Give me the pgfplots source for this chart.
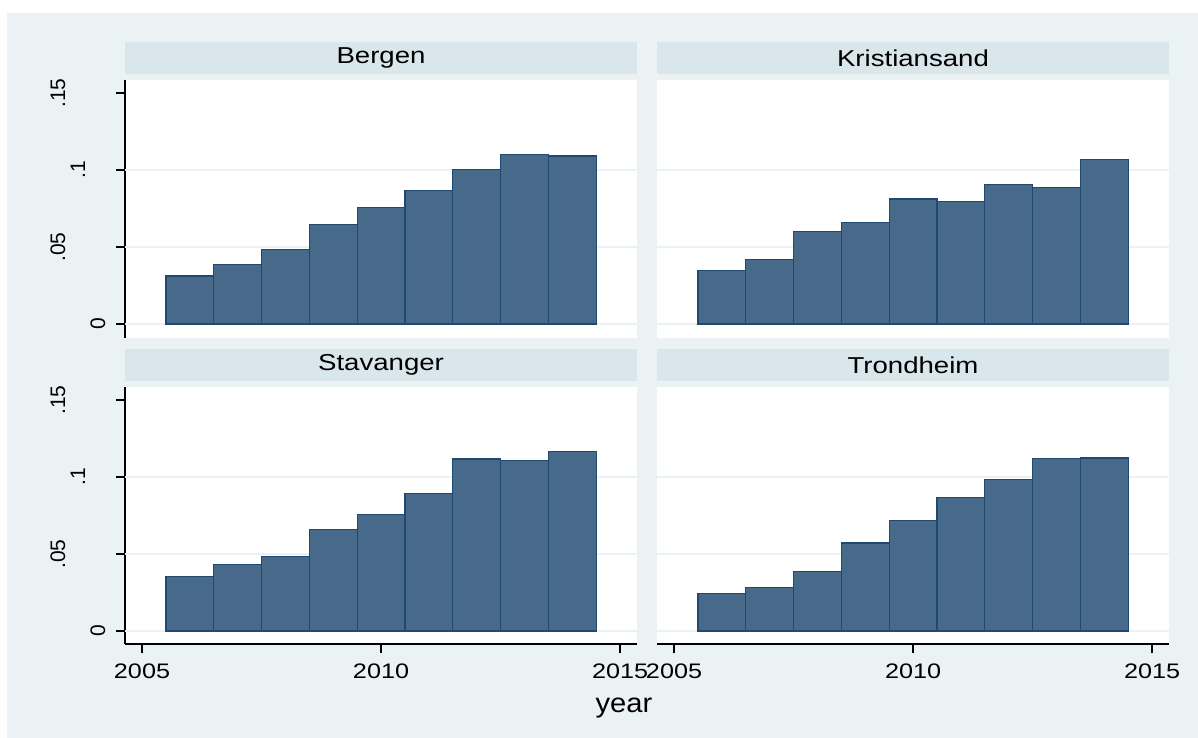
\documentclass[border=0pt]{standalone}
\usepackage{fontspec}
\setmainfont{Liberation Sans}
\newfontfamily\widefont{Liberation Sans}[FakeStretch=1.2]
\newfontfamily\yearfont{Liberation Sans}[FakeStretch=1.08]
\usepackage{pgfplots}
\pgfplotsset{compat=1.18}

\definecolor{bgcol}{RGB}{234,242,243}
\definecolor{stripcol}{RGB}{217,230,235}
\definecolor{barfill}{RGB}{71,106,139}
\definecolor{barline}{RGB}{32,72,112}
\definecolor{gridcol}{RGB}{234,242,243}

\pgfplotsset{
  panel/.style={
    scale only axis, width=512pt, height=258pt,
    anchor=south west,
    xmin=2004.644, xmax=2015.355,
    ymin=-0.0091, ymax=0.1584,
    axis background/.style={fill=white},
    axis x line*=bottom, axis y line*=left,
    axis line style={line width=1.5pt, black, -},
    tick style={line width=1.2pt, black},
    tick align=outside,
    major tick length=9pt,
    xtick={2005,2010,2015},
    xticklabels={2005,2010,2015},
    xticklabel style={font=\widefont\fontsize{21}{25}\selectfont, anchor=base, yshift=-25pt},
    ytick={0,0.05,0.1,0.15},
    yticklabels={0,{\raisebox{40pt}{.05}},{\raisebox{20pt}{.1}},{\raisebox{40pt}{.15}}},
    yticklabel style={font=\fontsize{21}{25}\selectfont, xshift=-11pt, rotate=90, anchor=base},
    extra y ticks={0,0.05,0.1},
    extra y tick labels={},
    extra y tick style={grid=major, major tick length=0pt, tick style={draw=none}},
    grid style={gridcol, line width=2pt},
    title style={at={(0.5,1)}, anchor=south, fill=stripcol, minimum width=512pt,
      minimum height=32pt, inner sep=0pt, yshift=0pt, font=\widefont\fontsize{23}{27}\selectfont},
  },
  toprow/.style={x axis line style={draw=none}, xtick=\empty},
  rightcol/.style={y axis line style={draw=none}, ytick=\empty},
  bars/.style={ybar, bar width=47.8pt, bar shift=0pt, fill=barfill, draw=barline, line width=1.2pt},
}

\begin{document}
\begin{tikzpicture}
\useasboundingbox (0pt,0pt) rectangle (1198pt,738pt);
\fill[white] (0pt,0pt) rectangle (1198pt,738pt);
\fill[bgcol] (7pt,0pt) rectangle (1198pt,725pt);

% Bergen
\begin{axis}[panel, toprow, at={(125pt,400pt)}, title={Bergen}]
\addplot[bars] coordinates {
(2006,0.0311) (2007,0.0385) (2008,0.0485) (2009,0.0646) (2010,0.0757)
(2011,0.0865) (2012,0.1003) (2013,0.1099) (2014,0.1090)};
\end{axis}

% Kristiansand
\begin{axis}[panel, toprow, rightcol, at={(657pt,400pt)}, title={Kristiansand}]
\addplot[bars] coordinates {
(2006,0.0347) (2007,0.0421) (2008,0.0599) (2009,0.0657) (2010,0.0811)
(2011,0.0794) (2012,0.0905) (2013,0.0885) (2014,0.1067)};
\end{axis}

% Stavanger
\begin{axis}[panel, at={(125pt,94pt)}, height=257pt, ymin=-0.0084, title={Stavanger}]
\addplot[bars] coordinates {
(2006,0.0356) (2007,0.0434) (2008,0.0486) (2009,0.0657) (2010,0.0756)
(2011,0.0892) (2012,0.1117) (2013,0.1108) (2014,0.1166)};
\end{axis}

% Trondheim
\begin{axis}[panel, rightcol, at={(657pt,94pt)}, height=257pt, ymin=-0.0084, title={Trondheim}]
\addplot[bars] coordinates {
(2006,0.0244) (2007,0.0285) (2008,0.0387) (2009,0.0572) (2010,0.0717)
(2011,0.0868) (2012,0.0983) (2013,0.1119) (2014,0.1123)};
\end{axis}

\node[anchor=base, font=\yearfont\fontsize{27}{32}\selectfont] at (624pt,25pt) {year};
\end{tikzpicture}
\end{document}
